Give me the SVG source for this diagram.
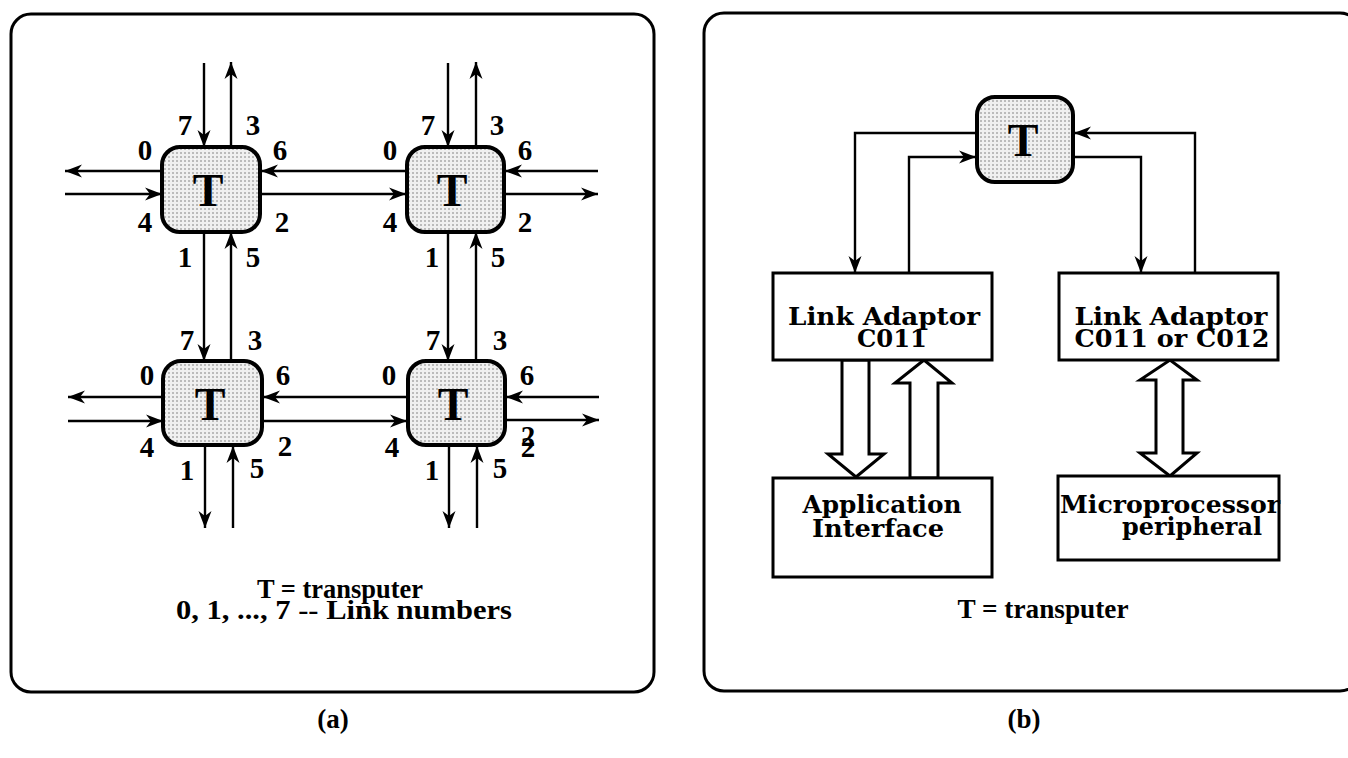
<svg xmlns="http://www.w3.org/2000/svg" width="1348" height="758" viewBox="0 0 1348 758">
<style>
.panel{fill:none;stroke:#000;stroke-width:3}
.tbox{fill:url(#dots);stroke:#000;stroke-width:4}
.box{fill:#fff;stroke:#000;stroke-width:3}
.hollow{fill:#fff;stroke:#000;stroke-width:3;stroke-linejoin:miter}
.ln{fill:none;stroke:#000;stroke-width:2.4;marker-end:url(#ah)}
.T{font-family:"Liberation Serif",serif;font-weight:bold;font-size:46px;text-anchor:middle}
.d{font-family:"Liberation Serif",serif;font-weight:bold;font-size:29px;text-anchor:middle}
.cap{font-family:"Liberation Serif",serif;font-weight:bold;font-size:27px;text-anchor:middle}
.bt{font-family:"DejaVu Serif",serif;font-weight:bold;font-size:24px;text-anchor:middle}
</style>
<defs>
<pattern id="dots" width="4" height="4" patternUnits="userSpaceOnUse">
<rect width="4" height="4" fill="#f0f0f0"/>
<circle cx="1" cy="1" r="0.8" fill="#777"/>
</pattern>
<marker id="ah" markerUnits="userSpaceOnUse" markerWidth="20" markerHeight="14" viewBox="-17 -7 18 14" refX="0" refY="0" orient="auto">
<path d="M0,0 L-17,-6.5 L-12,0 L-17,6.5 Z" fill="#000"/>
</marker>
</defs>
<rect width="1348" height="758" fill="#fff"/>
<rect class="panel" x="11" y="14" width="643" height="678" rx="20"/>
<rect class="panel" x="704" y="13" width="656" height="678" rx="20"/>

<g id="connectors">
<path class="ln" d="M204,63 L204,147"/>
<path class="ln" d="M231,147 L231,62"/>
<path class="ln" d="M162,171 L65,171"/>
<path class="ln" d="M65,194 L162,194"/>
<path class="ln" d="M407,171 L261,171"/>
<path class="ln" d="M260,194 L406,194"/>
<path class="ln" d="M204,232 L204,361"/>
<path class="ln" d="M231,361 L231,232"/>
<path class="ln" d="M448,63 L448,147"/>
<path class="ln" d="M476,147 L476,62"/>
<path class="ln" d="M598,171 L505,171"/>
<path class="ln" d="M504,194 L598,194"/>
<path class="ln" d="M448,232 L448,361"/>
<path class="ln" d="M476,361 L476,232"/>
<path class="ln" d="M163,397 L68,397"/>
<path class="ln" d="M68,421 L163,421"/>
<path class="ln" d="M408,397 L263,397"/>
<path class="ln" d="M262,421 L407,421"/>
<path class="ln" d="M205,445 L205,528"/>
<path class="ln" d="M233,528 L233,446"/>
<path class="ln" d="M599,397 L506,397"/>
<path class="ln" d="M505,420 L599,420"/>
<path class="ln" d="M449,445 L449,528"/>
<path class="ln" d="M477,528 L477,446"/>
<path class="ln" d="M977,133 L855,133 L855,273"/>
<path class="ln" d="M909,273 L909,157 L976,157"/>
<path class="ln" d="M1073,157 L1141,157 L1141,273"/>
<path class="ln" d="M1195,273 L1195,133 L1074,133"/>
<polygon class="hollow" points="842,360 869,360 869,454 884,454 856,477 828,454 842,454"/>
<polygon class="hollow" points="910,478 910,383 895,383 924,360 952,383 938,383 938,478"/>
<polygon class="hollow" points="1156,380 1140,380 1170,360 1197,380 1183,380 1183,453 1197,453 1170,476 1140,453 1156,453"/>
</g>

<g id="node-tl">
<rect class="tbox" x="162" y="147" width="98" height="85" rx="18"/>
<text class="T" x="208" y="206">T</text>
<text class="d" x="185" y="135">7</text><text class="d" x="253" y="135">3</text>
<text class="d" x="145" y="160">0</text><text class="d" x="280" y="160">6</text>
<text class="d" x="145" y="232">4</text><text class="d" x="282" y="232">2</text>
<text class="d" x="185" y="267">1</text><text class="d" x="253" y="267">5</text>
</g>
<g id="node-tr">
<rect class="tbox" x="407" y="147" width="97" height="85" rx="18"/>
<text class="T" x="452" y="206">T</text>
<text class="d" x="428" y="135">7</text><text class="d" x="497" y="135">3</text>
<text class="d" x="390" y="160">0</text><text class="d" x="525" y="160">6</text>
<text class="d" x="390" y="232">4</text><text class="d" x="525" y="232">2</text>
<text class="d" x="432" y="267">1</text><text class="d" x="498" y="267">5</text>
</g>
<g id="node-bl">
<rect class="tbox" x="163" y="361" width="99" height="84" rx="18"/>
<text class="T" x="210" y="420">T</text>
<text class="d" x="187" y="350">7</text><text class="d" x="255" y="350">3</text>
<text class="d" x="147" y="385">0</text><text class="d" x="283" y="385">6</text>
<text class="d" x="147" y="457">4</text><text class="d" x="285" y="456">2</text>
<text class="d" x="187" y="480">1</text><text class="d" x="257" y="478">5</text>
</g>
<g id="node-br">
<rect class="tbox" x="408" y="361" width="97" height="84" rx="18"/>
<text class="T" x="453" y="420">T</text>
<text class="d" x="433" y="350">7</text><text class="d" x="500" y="350">3</text>
<text class="d" x="389" y="385">0</text><text class="d" x="527" y="385">6</text>
<text class="d" x="392" y="457">4</text>
<text class="d" x="528" y="446">2</text><text class="d" x="528" y="457">2</text>
<text class="d" x="432" y="480">1</text><text class="d" x="500" y="478">5</text>
</g>
<g id="caption-a">
<text class="cap" x="340" y="598" textLength="166" lengthAdjust="spacingAndGlyphs">T = transputer</text>
<text class="cap" x="344" y="619" textLength="336" lengthAdjust="spacingAndGlyphs">0, 1, ..., 7 -- Link numbers</text>
<text class="cap" x="333" y="728">(a)</text>
</g>

<g id="node-t-b">
<rect class="tbox" x="977" y="97" width="96" height="85" rx="18"/>
<text class="T" x="1023" y="156">T</text>
</g>
<g id="node-la1">
<rect class="box" x="773" y="273" width="219" height="87"/>
<text class="bt" x="884" y="325" textLength="192" lengthAdjust="spacingAndGlyphs">Link Adaptor</text>
<text class="bt" x="892" y="347" textLength="70" lengthAdjust="spacingAndGlyphs">C011</text>
</g>
<g id="node-la2">
<rect class="box" x="1059" y="273" width="219" height="87"/>
<text class="bt" x="1171" y="325" textLength="193" lengthAdjust="spacingAndGlyphs">Link Adaptor</text>
<text class="bt" x="1172" y="347" textLength="195" lengthAdjust="spacingAndGlyphs">C011 or C012</text>
</g>
<g id="node-ai">
<rect class="box" x="773" y="478" width="219" height="99"/>
<text class="bt" x="882" y="513" textLength="159" lengthAdjust="spacingAndGlyphs">Application</text>
<text class="bt" x="878" y="537" textLength="132" lengthAdjust="spacingAndGlyphs">Interface</text>
</g>
<g id="node-mp">
<rect class="box" x="1058" y="476" width="221" height="84"/>
<text class="bt" x="1170" y="513" textLength="220" lengthAdjust="spacingAndGlyphs">Microprocessor</text>
<text class="bt" x="1192" y="535" textLength="140" lengthAdjust="spacingAndGlyphs">peripheral</text>
</g>
<g id="caption-b">
<text class="cap" x="1043" y="618" textLength="171" lengthAdjust="spacingAndGlyphs">T = transputer</text>
<text class="cap" x="1024" y="728">(b)</text>
</g>
</svg>
